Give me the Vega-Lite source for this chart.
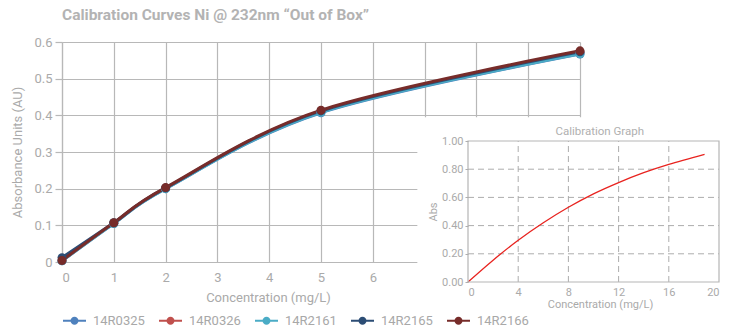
{
  "$schema": "https://vega.github.io/schema/vega-lite/v6.json",
  "width": 518,
  "height": 220,
  "autosize": {"type": "none"},
  "padding": {"left": 62, "top": 42, "right": 161, "bottom": 69},
  "background": "white",
  "config": {
    "font": "Roboto",
    "view": {"stroke": null},
    "axis": {"labelFont": "Roboto", "titleFont": "Roboto", "labelColor": "#aaaaaa", "titleColor": "#aaaaaa", "titleFontWeight": "normal"},
    "legend": {"labelFont": "Roboto"}
  },
  "title": {
    "text": "Calibration Curves Ni @ 232nm “Out of Box”",
    "anchor": "start",
    "frame": "group",
    "offset": 13,
    "fontSize": 15.5,
    "fontWeight": "bold",
    "color": "#b3b3b3",
    "font": "Roboto"
  },
  "datasets": {
    "main": [
      {"series": "14R0325", "conc": 0, "abs": 0.003},
      {"series": "14R0325", "conc": 1, "abs": 0.105},
      {"series": "14R0325", "conc": 2, "abs": 0.200},
      {"series": "14R0325", "conc": 5, "abs": 0.407},
      {"series": "14R0325", "conc": 10, "abs": 0.567},
      {"series": "14R0326", "conc": 0, "abs": 0.004},
      {"series": "14R0326", "conc": 1, "abs": 0.106},
      {"series": "14R0326", "conc": 2, "abs": 0.201},
      {"series": "14R0326", "conc": 5, "abs": 0.411},
      {"series": "14R0326", "conc": 10, "abs": 0.572},
      {"series": "14R2161", "conc": 0, "abs": 0.003},
      {"series": "14R2161", "conc": 1, "abs": 0.105},
      {"series": "14R2161", "conc": 2, "abs": 0.200},
      {"series": "14R2161", "conc": 5, "abs": 0.408},
      {"series": "14R2161", "conc": 10, "abs": 0.568},
      {"series": "14R2165", "conc": 0, "abs": 0.012},
      {"series": "14R2165", "conc": 1, "abs": 0.107},
      {"series": "14R2165", "conc": 2, "abs": 0.202},
      {"series": "14R2165", "conc": 5, "abs": 0.412},
      {"series": "14R2165", "conc": 10, "abs": 0.573},
      {"series": "14R2166", "conc": 0, "abs": 0.004},
      {"series": "14R2166", "conc": 1, "abs": 0.107},
      {"series": "14R2166", "conc": 2, "abs": 0.203},
      {"series": "14R2166", "conc": 5, "abs": 0.414},
      {"series": "14R2166", "conc": 10, "abs": 0.576}
    ],
    "inset": [
      {"c": 0, "a": 0.0},
      {"c": 2, "a": 0.155},
      {"c": 4, "a": 0.296},
      {"c": 6, "a": 0.42},
      {"c": 8, "a": 0.53},
      {"c": 10, "a": 0.625},
      {"c": 12, "a": 0.705},
      {"c": 14, "a": 0.775},
      {"c": 16, "a": 0.834},
      {"c": 18.85, "a": 0.905}
    ],
    "insetGridX": [{"c": 4}, {"c": 8}, {"c": 12}, {"c": 16}],
    "insetGridY": [{"a": 0.2}, {"a": 0.4}, {"a": 0.6}, {"a": 0.8}],
    "one": [{"label": "Calibration Graph"}]
  },
  "layer": [
    {
      "data": {"name": "main"},
      "encoding": {
        "x": {
          "field": "conc",
          "type": "quantitative",
          "scale": {"domain": [0, 10], "nice": false},
          "axis": {
            "values": [0, 1, 2, 3, 4, 5, 6, 7, 8, 9, 10],
            "labelExpr": "datum.value <= 6 ? datum.label : ''",
            "grid": true,
            "gridColor": "#b8b8b8",
            "gridWidth": 1.2,
            "domain": false,
            "ticks": false,
            "labelPadding": 9,
            "labelFontSize": 13,
            "title": "Concentration (mg/L)",
            "titleFontSize": 13,
            "titlePadding": 7,
            "titleX": 206
          }
        },
        "y": {
          "field": "abs",
          "type": "quantitative",
          "scale": {"domain": [0, 0.6], "nice": false},
          "axis": {
            "values": [0, 0.1, 0.2, 0.3, 0.4, 0.5, 0.6],
            "labelExpr": "datum.value == 0 ? '0' : datum.label",
            "grid": true,
            "gridColor": "#b8b8b8",
            "gridWidth": 1.2,
            "domain": true,
            "domainColor": "#b8b8b8",
            "domainWidth": 1.2,
            "ticks": true,
            "tickSize": 7,
            "tickColor": "#b8b8b8",
            "tickWidth": 1.2,
            "labelPadding": 3,
            "labelFontSize": 13,
            "title": "Absorbance Units (AU)",
            "titleFontSize": 13,
            "titlePadding": 9
          }
        },
        "color": {
          "field": "series",
          "type": "nominal",
          "scale": {
            "domain": ["14R0325", "14R0326", "14R2161", "14R2165", "14R2166"],
            "range": ["#4F81BD", "#C0504D", "#4BACC6", "#2C4D75", "#772C2A"]
          },
          "legend": {
            "orient": "none",
            "legendX": 0,
            "legendY": 266,
            "direction": "horizontal",
            "title": null,
            "padding": 0,
            "symbolType": "M-1,0H1M-0.26,0A0.26,0.26,0,1,1,0.26,0A0.26,0.26,0,1,1,-0.26,0Z",
            "symbolSize": 529,
            "symbolStrokeWidth": 2,
            "labelFontSize": 13,
            "labelColor": "#a8a8a8",
            "labelOffset": 6,
            "columnPadding": 10,
            "encode": {
              "symbols": {
                "update": {
                  "stroke": {"scale": "color", "field": "value"},
                  "fill": {"scale": "color", "field": "value"},
                  "opacity": {"value": 1}
                }
              }
            }
          }
        }
      },
      "layer": [
        {"mark": {"type": "line", "interpolate": "cardinal", "strokeWidth": 3}},
        {"mark": {"type": "point", "filled": true, "size": 80, "opacity": 1}}
      ]
    },
    {
      "data": {"name": "one"},
      "mark": {"type": "rect", "fill": "white", "stroke": null},
      "encoding": {
        "x": {"datum": 6.86, "scale": {"domain": [0, 10], "nice": false}, "axis": null},
        "x2": {"datum": 14},
        "y": {"datum": -0.3, "scale": {"domain": [0, 0.6], "nice": false}, "axis": null},
        "y2": {"datum": 0.395}
      }
    },
    {
      "encoding": {
        "x": {
          "type": "quantitative",
          "scale": {"domain": [0, 20], "nice": false, "range": [406, 657]},
          "axis": {
            "orient": "bottom",
            "offset": 20,
            "zindex": 1,
            "values": [0, 4, 8, 12, 16, 20],
            "grid": false,
            "domain": false,
            "ticks": false,
            "labelPadding": 4,
            "labelFontSize": 11,
            "title": "Concentration (mg/L)",
            "titleFontSize": 11,
            "titlePadding": 1,
            "titleX": 538
          }
        },
        "y": {
          "type": "quantitative",
          "scale": {"domain": [0, 1], "nice": false, "range": [240, 99]},
          "axis": {
            "orient": "left",
            "offset": -406,
            "zindex": 1,
            "values": [0, 0.2, 0.4, 0.6, 0.8, 1.0],
            "format": ".2f",
            "grid": false,
            "domain": false,
            "ticks": true,
            "tickSize": 3,
            "tickColor": "#adadad",
            "labelPadding": 2,
            "labelFontSize": 11,
            "title": "Abs",
            "titleFontSize": 11,
            "titlePadding": 3
          }
        }
      },
      "layer": [
        {
          "data": {"name": "insetGridX"},
          "mark": {"type": "rule", "strokeDash": [6, 4], "color": "#adadad", "strokeWidth": 1},
          "encoding": {
            "x": {"field": "c"},
            "y": {"datum": 0},
            "y2": {"datum": 1}
          }
        },
        {
          "data": {"name": "insetGridY"},
          "mark": {"type": "rule", "strokeDash": [6, 4], "color": "#adadad", "strokeWidth": 1},
          "encoding": {
            "y": {"field": "a"},
            "x": {"datum": 0},
            "x2": {"datum": 20}
          }
        },
        {
          "data": {"name": "inset"},
          "mark": {"type": "line", "interpolate": "cardinal", "color": "#e8231f", "strokeWidth": 1.3},
          "encoding": {
            "x": {"field": "c"},
            "y": {"field": "a"}
          }
        },
        {
          "data": {"name": "one"},
          "mark": {"type": "rect", "fill": null, "stroke": "#b5b5b5", "strokeWidth": 1.2},
          "encoding": {
            "x": {"datum": 0},
            "x2": {"datum": 20},
            "y": {"datum": 0},
            "y2": {"datum": 1}
          }
        },
        {
          "data": {"name": "one"},
          "mark": {"type": "text", "fontSize": 11.5, "color": "#b0b0b0", "baseline": "bottom", "dy": -4, "font": "Roboto"},
          "encoding": {
            "text": {"field": "label"},
            "x": {"datum": 10.5},
            "y": {"datum": 1}
          }
        }
      ]
    }
  ],
  "resolve": {"scale": {"x": "independent", "y": "independent", "color": "independent"}}
}
